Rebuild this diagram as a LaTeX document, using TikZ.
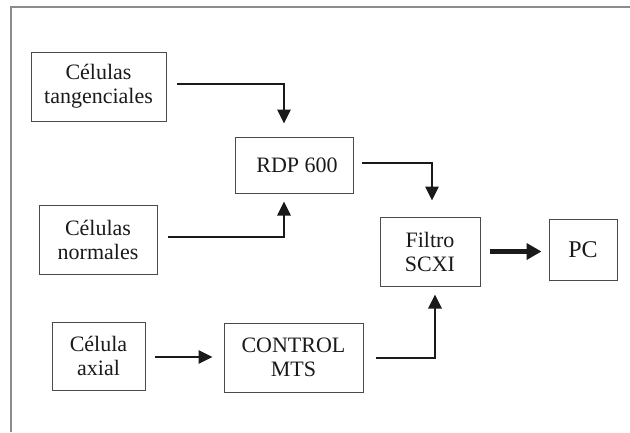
\documentclass[tikz,border=0pt]{standalone}
\usepackage{fontspec}
\setmainfont{Liberation Serif}
\usetikzlibrary{arrows.meta,calc}
\definecolor{framegray}{HTML}{8C8C8C}
\definecolor{boxgray}{HTML}{4A4A4A}
\definecolor{ink}{HTML}{1A1A1A}
\begin{document}
\begin{tikzpicture}[x=1pt,y=-1pt,
  block/.style={draw=boxgray,line width=1pt,rectangle,inner sep=0pt,
    align=center,text=ink,font=\fontsize{22}{24}\selectfont},
  link/.style={draw=ink,line width=2.6pt,
    -{Triangle[length=14pt,width=13pt]}},
  biglink/.style={draw=ink,line width=5pt,
    -{Triangle[length=15pt,width=16pt]}}]
\useasboundingbox (0,0) rectangle (630,432);
% outer frame (open at right and bottom)
\draw[framegray,line width=1.6pt] (11,432) -- (11,7) -- (630,7);

% blocks
\node[block,minimum width=135pt,minimum height=69pt] (tang) at (98.5,86.5) {Células\\tangenciales};
\node[block,minimum width=118pt,minimum height=56pt] (rdp) at (294,165) {\hspace{6pt}RDP 600};
\node[block,minimum width=118pt,minimum height=69pt] (norm) at (98,239.5) {Células\\normales};
\node[block,minimum width=100pt,minimum height=69pt] (filt) at (430,251.5) {Filtro\\SCXI};
\node[block,minimum width=68pt,minimum height=61pt,font=\fontsize{24}{26}\selectfont] (pc) at (583,249.5) {PC};
\node[block,minimum width=93pt,minimum height=68pt] (axial) at (98.5,356) {Célula\\axial};
\node[block,minimum width=139pt,minimum height=69pt] (ctrl) at (293.5,357.5) {CONTROL\\MTS};

% connectors
\draw[link] ([xshift=10pt,yshift=2.5pt]tang.east) -| ([xshift=-10pt,yshift=13pt]rdp.north);
\draw[link] ([xshift=10pt,yshift=2.5pt]norm.east) -| ([xshift=-10pt,yshift=-8pt]rdp.south);
\draw[link] ([xshift=8pt,yshift=2pt]rdp.east) -| ([xshift=2pt,yshift=16pt]filt.north);
\draw[biglink] ([xshift=9pt]filt.east) -- ([xshift=-7pt]filt.east -| pc.west);
\draw[link] ([xshift=9pt,yshift=-1pt]axial.east) -- ([xshift=-11pt,yshift=-1pt]axial.east -| ctrl.west);
\draw[link] ([xshift=12pt,yshift=-0.5pt]ctrl.east) -| ([xshift=5pt,yshift=-8pt]filt.south);
\end{tikzpicture}
\end{document}
